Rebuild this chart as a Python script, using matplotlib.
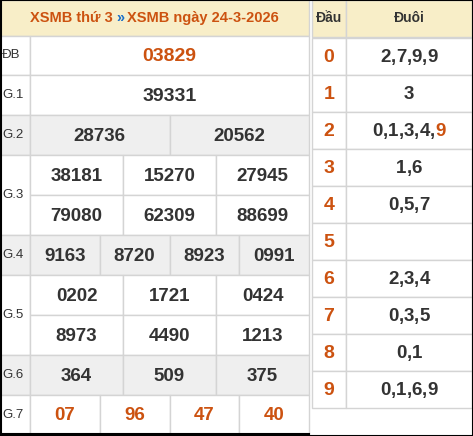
import matplotlib
matplotlib.use("Agg")
import matplotlib.pyplot as plt
from matplotlib.patches import Rectangle

title_left = "XSMB thứ 3"
title_right = "XSMB ngày 24-3-2026"
prize_labels = ["ĐB", "G.1", "G.2", "G.3", "G.4", "G.5", "G.6", "G.7"]
db = ["03829"]
g1 = ["39331"]
g2 = ["28736", "20562"]
g3 = ["38181", "15270", "27945", "79080", "62309", "88699"]
g4 = ["9163", "8720", "8923", "0991"]
g5 = ["0202", "1721", "0424", "8973", "4490", "1213"]
g6 = ["364", "509", "375"]
g7 = ["07", "96", "47", "40"]
dau = ["0", "1", "2", "3", "4", "5", "6", "7", "8", "9"]
duoi = [["2", "7", "9", "9"], ["3"], ["0", "1", "3", "4", "9"], ["1", "6"], ["0", "5", "7"],
        [], ["2", "3", "4"], ["0", "3", "5"], ["0", "1"], ["0", "1", "6", "9"]]
duoi_hl = {2: 4}

W, H = 473, 436
fig = plt.figure(figsize=(W/100, H/100), dpi=100)
ax = fig.add_axes([0, 0, 1, 1])
ax.set_xlim(0, W); ax.set_ylim(H, 0); ax.axis("off")

ORANGE = "#cc5210"; DARK = "#333333"; GRID = "#d4d4d4"; CREAM = "#f8eec8"; GRAY = "#efefef"
FONT = "Liberation Sans"

def rect(x0, y0, x1, y1, fc="white"):
    ax.add_patch(Rectangle((x0, y0), x1-x0, y1-y0, fc=fc, ec=GRID, lw=1))

def txt(x, y, s, c=DARK, size=13.5, bold=True):
    ax.text(x, y, s, color=c, fontsize=size, fontweight="bold" if bold else "normal",
            ha="center", va="center", family=FONT)

L0, L1, LC = 0, 309, 30
rect(L0, 0, L1, 36, CREAM)
ax.text(113, 18, title_left, color=ORANGE, fontsize=10.5, fontweight="bold", ha="right", va="center", family=FONT)
ax.text(120, 18, "»", color="#1a6fc9", fontsize=10.5, fontweight="bold", ha="center", va="center", family=FONT)
ax.text(127, 18, title_right, color=ORANGE, fontsize=10.5, fontweight="bold", ha="left", va="center", family=FONT)

rows = [(36, 75, [db], False), (75, 115, [g1], False), (115, 155, [g2], True),
        (155, 235, [g3[:3], g3[3:]], False), (235, 275, [g4], True),
        (275, 355, [g5[:3], g5[3:]], False), (355, 395, [g6], True), (395, 434, [g7], False)]
for i, (y0, y1, sub, gray) in enumerate(rows):
    fc = GRAY if gray else "white"
    rect(L0, y0, LC, y1, fc)
    ax.text(2, (y0+y1)/2, prize_labels[i], color=DARK, fontsize=9.5, ha="left", va="center", family=FONT)
    h = (y1-y0)/len(sub)
    for j, vals in enumerate(sub):
        n = len(vals); w = (L1-LC)/n
        for k, v in enumerate(vals):
            x0 = LC + k*w; ya = y0 + j*h
            rect(x0, ya, x0+w, ya+h, fc)
            col = ORANGE if i in (0, 7) else DARK
            txt(x0+w/2, ya+h/2+1, v, col, 14 if i < 2 else 13.5)
ax.plot([0, L1], [434, 434], color="black", lw=1.5)

R0, RC, R1 = 312, 346, 472
rect(R0, 0, RC, 37, CREAM); rect(RC, 0, R1, 37, CREAM)
ax.text((R0+RC)/2, 18, "Đầu", color=DARK, fontsize=10, fontweight="bold", ha="center", va="center", family=FONT)
ax.text((RC+R1)/2, 18, "Đuôi", color=DARK, fontsize=10, fontweight="bold", ha="center", va="center", family=FONT)
renderer = fig.canvas.get_renderer()
for i, d in enumerate(dau):
    y0 = 38 + i*37; y1 = y0 + 37
    rect(R0, y0, RC, y1); rect(RC, y0, R1, y1)
    txt((R0+RC)/2, (y0+y1)/2+1, d, ORANGE, 14)
    tails = duoi[i]
    if tails:
        parts = []
        for k, t in enumerate(tails):
            parts.append((t, ORANGE if duoi_hl.get(i) == k else DARK))
            if k < len(tails)-1:
                parts.append((",", DARK))
        full = ax.text(0, 0, ",".join(tails), fontsize=13.5, fontweight="bold", family=FONT)
        wpx = full.get_window_extent(renderer).width; full.remove()
        x = (RC+R1)/2 - wpx/2
        for p, c in parts:
            tt = ax.text(x, (y0+y1)/2+1, p, color=c, fontsize=13.5, fontweight="bold",
                         ha="left", va="center", family=FONT)
            x += tt.get_window_extent(renderer).width

ax.add_patch(Rectangle((0.5, 0.5), W-1, H-1, fc="none", ec="black", lw=1.5))
fig.savefig("out.png", dpi=100)
